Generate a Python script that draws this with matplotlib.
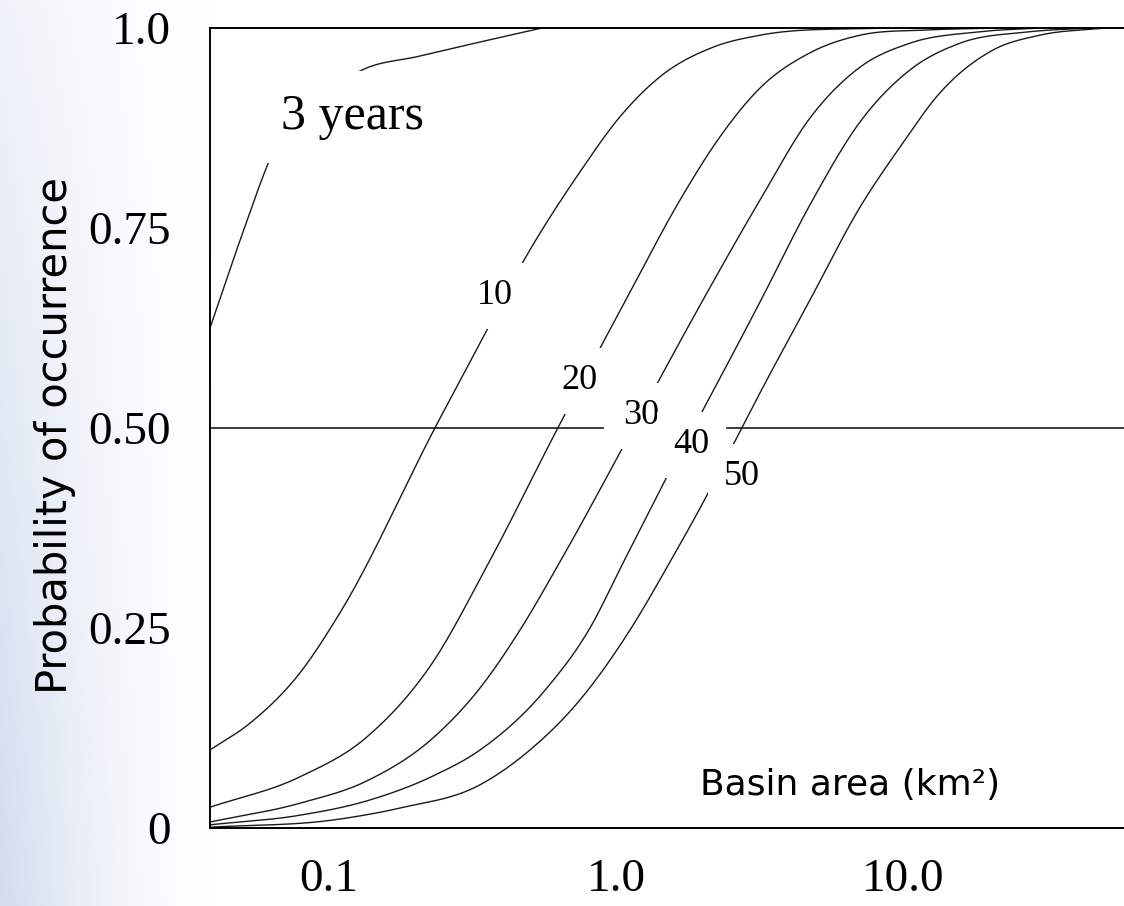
"""Probability of occurrence vs basin area, by recurrence interval."""

import matplotlib
matplotlib.use("Agg")
import matplotlib.pyplot as plt
import numpy as np

# values (area in km2, probability 0-1)
years3_area = [0.0387, 0.042, 0.0504, 0.0641, 0.1267, 0.208, 0.3365, 0.553]
years3_prob = [0.625, 0.6625, 0.745, 0.845, 0.945, 0.965, 0.9825, 1.0]

y10_area = [0.0387, 0.0533, 0.0796, 0.1096, 0.2384, 0.3365, 0.4747, 0.749,
            1.032, 1.422, 2.175, 3.17, 6.52, 14.5]
y10_prob = [0.0975, 0.131, 0.194, 0.269, 0.505, 0.606, 0.7075, 0.82,
            0.889, 0.939, 0.976, 0.991, 0.999, 1.0]

y20_area = [0.0387, 0.0796, 0.1362, 0.2309, 0.350, 0.638, 1.101, 1.67,
            2.30, 3.17, 4.73, 7.06, 12.07, 21.7]
y20_prob = [0.026, 0.064, 0.114, 0.2075, 0.3225, 0.505, 0.665, 0.785,
            0.864, 0.925, 0.969, 0.991, 0.9975, 1.0]

y30_area = [0.0387, 0.0796, 0.1362, 0.2309, 0.3365, 0.4637, 0.638, 1.057,
            1.40, 2.007, 3.17, 4.73, 7.06, 10.53, 18.0, 29.8]
y30_prob = [0.0075, 0.031, 0.059, 0.1125, 0.175, 0.2475, 0.3325, 0.476,
            0.5575, 0.66, 0.785, 0.8875, 0.951, 0.981, 0.995, 1.0]

y40_area = [0.0387, 0.0796, 0.1362, 0.2309, 0.3365, 0.575, 0.812, 1.057,
            1.504, 2.007, 3.17, 4.73, 7.06, 10.53, 15.73, 26.9, 44.5]
y40_prob = [0.004, 0.016, 0.034, 0.065, 0.0975, 0.175, 0.25, 0.331,
            0.439, 0.5225, 0.6575, 0.779, 0.8825, 0.9475, 0.981, 0.995, 1.0]

y50_area = [0.0387, 0.1037, 0.1774, 0.3365, 0.502, 0.749, 1.119, 1.541,
            2.073, 2.553, 3.17, 4.73, 7.06, 9.72, 13.4, 20.5, 29.8, 50.2]
y50_prob = [0.001, 0.010, 0.025, 0.054, 0.0975, 0.16, 0.2475, 0.3325,
            0.416, 0.479, 0.544, 0.66, 0.776, 0.851, 0.919, 0.9725, 0.991, 1.0]

curve_labels = ["3 years", "10", "20", "30", "40", "50"]
label_pos = [(0.1207, 0.889), (0.379, 0.665), (0.749, 0.559),
             (1.222, 0.515), (1.823, 0.479), (2.743, 0.439)]

x_ticks = [0.1, 1.0, 10.0]
x_ticklabels = ["0.1", "1.0", "10.0"]
y_ticks = [0, 0.25, 0.5, 0.75, 1.0]
y_ticklabels = ["0", "0.25", "0.50", "0.75", "1.0"]


def smooth_path(xs, ys, per_seg=24):
    """Monotone Hermite curve through the read points (log-x), only for drawing."""
    lx = np.log10(xs)
    y = np.asarray(ys, dtype=float)
    h = np.diff(lx)
    d = np.diff(y) / h
    m = np.empty_like(y)
    m[0], m[-1] = d[0], d[-1]
    m[1:-1] = (d[:-1] * h[1:] + d[1:] * h[:-1]) / (h[:-1] + h[1:])
    for k in range(len(d)):
        if d[k] == 0:
            m[k] = m[k + 1] = 0
            continue
        a, b = m[k] / d[k], m[k + 1] / d[k]
        r = a * a + b * b
        if r > 9:
            tau = 3 / np.sqrt(r)
            m[k], m[k + 1] = tau * a * d[k], tau * b * d[k]
    out_x, out_y = [], []
    for k in range(len(h)):
        t = np.linspace(0, 1, per_seg, endpoint=(k == len(h) - 1))
        h00 = 2 * t**3 - 3 * t**2 + 1
        h10 = t**3 - 2 * t**2 + t
        h01 = -2 * t**3 + 3 * t**2
        h11 = t**3 - t**2
        out_x.append(lx[k] + t * h[k])
        out_y.append(h00 * y[k] + h10 * h[k] * m[k] + h01 * y[k + 1] + h11 * h[k] * m[k + 1])
    return 10 ** np.concatenate(out_x), np.clip(np.concatenate(out_y), 0, 1)


fig = plt.figure(figsize=(11.24, 9.06), dpi=100)

# faint slide background on the left edge
bg = fig.add_axes([0, 0, 0.2, 1], zorder=-10)
gx = np.linspace(1, 0, 200) ** 1.6
gy = np.linspace(0.35, 1, 300)[:, None]
alpha = gy * gx[None, :]
rgba = np.zeros((300, 200, 4))
rgba[..., 0] = 0.80
rgba[..., 1] = 0.85
rgba[..., 2] = 0.93
rgba[..., 3] = alpha * 0.9
bg.imshow(rgba, aspect="auto", extent=[0, 1, 0, 1], origin="upper")
bg.axis("off")

ax = fig.add_axes([210 / 1124, 78 / 906, 925 / 1124, 800 / 906])
ax.patch.set_alpha(0)

ax.set_xscale("log")
ax.set_xlim(0.0387, 63.9)
ax.set_ylim(0, 1)

curves = [(years3_area, years3_prob), (y10_area, y10_prob), (y20_area, y20_prob),
          (y30_area, y30_prob), (y40_area, y40_prob), (y50_area, y50_prob)]
for xs, ps in curves:
    sx, sy = smooth_path(xs, ps)
    ax.plot(sx, sy, color="#1a1a1a", lw=1.0, zorder=2)

# 0.5 reference line, broken around the "30" label
ax.axhline(0.5, xmax=0.425, color="#1a1a1a", lw=1.2, zorder=1)
ax.axhline(0.5, xmin=0.559, color="#1a1a1a", lw=1.2, zorder=1)

box = dict(boxstyle="square,pad=0.45", fc="white", ec="none")
for text, (lx, ly) in zip(curve_labels, label_pos):
    size = 36 if text == "3 years" else 26
    ax.text(lx, ly, text, fontsize=size, family="Liberation Serif",
            ha="center", va="center", bbox=box, zorder=5)

ax.text(0.692, 0.054, "Basin area (km\u00b2)", transform=ax.transAxes,
        fontsize=26, family="DejaVu Sans", ha="center", va="center")

ax.set_xticks(x_ticks)
ax.set_xticklabels(x_ticklabels)
ax.set_xticks([], minor=True)
ax.set_yticks(y_ticks)
ax.set_yticklabels(y_ticklabels)
ax.tick_params(length=0, labelsize=34)
ax.tick_params(axis="y", pad=28)
ax.tick_params(axis="x", pad=22)
for lab in ax.get_xticklabels() + ax.get_yticklabels():
    lab.set_family("Liberation Serif")

for side in ["left", "top", "bottom"]:
    ax.spines[side].set_linewidth(1.4)
ax.spines["right"].set_visible(False)

fig.text(55 / 1124, 1 - 435 / 906, "Probability of occurrence", rotation=90,
         fontsize=30, family="DejaVu Sans", ha="center", va="center")

fig.savefig("out.png", dpi=100)
